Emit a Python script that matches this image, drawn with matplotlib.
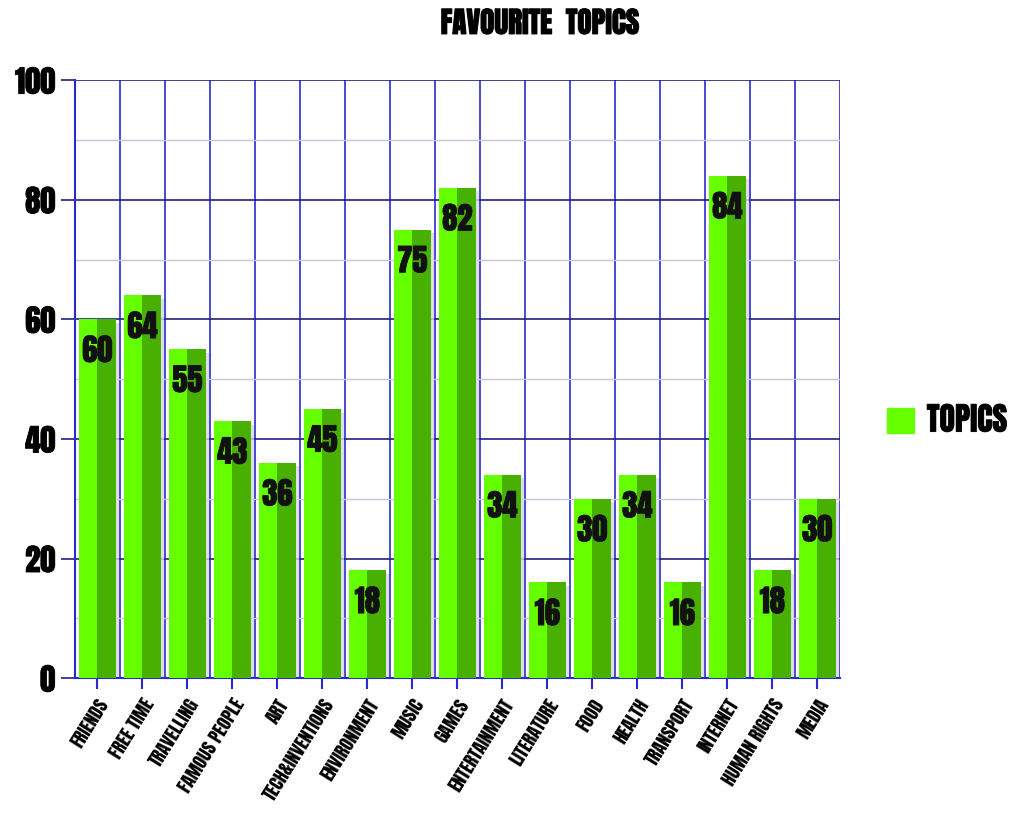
import numpy as np
import matplotlib.pyplot as plt
import matplotlib.patheffects as pe
from matplotlib.ticker import MultipleLocator

TOPICS = ['FRIENDS', 'FREE TIME', 'TRAVELLING', 'FAMOUS PEOPLE', 'ART', 'TECH&INVENTIONS',
          'ENVIRONMENT', 'MUSIC', 'GAMES', 'ENTERTAINMENT', 'LITERATURE', 'FOOD', 'HEALTH',
          'TRANSPORT', 'INTERNET', 'HUMAN RIGHTS', 'MEDIA']
VALUES = [60, 64, 55, 43, 36, 45, 18, 75, 82, 34, 16, 30, 34, 16, 84, 18, 30]

FONT = ['Anton', 'DejaVu Sans']
LIGHT = '#66ff00'
DARK = '#48b000'
W = 0.82
bold = [pe.withStroke(linewidth=0.6, foreground='#111111')]

fig = plt.figure(figsize=(10.24, 8.18), dpi=100)
ax = fig.add_axes([0.073, 0.171, 0.747, 0.731])

x = np.arange(len(TOPICS))
vals = np.array(VALUES)

# shadow
ax.bar(x + 0.08, vals, W, bottom=-0.6, color='#d8d8e0', zorder=2, alpha=0.8)
ax.bar(x - W / 4, vals, W / 2, color=LIGHT, zorder=3, label='TOPICS')
ax.bar(x + W / 4, vals, W / 2, color=DARK, zorder=3)

for xi, v in zip(x, vals):
    ax.text(xi, v - 5.2, str(v), ha='center', va='center', fontsize=22,
            family=FONT, color='#111111', zorder=4, path_effects=bold)

ax.set_xlim(-0.5, len(TOPICS) - 0.5)
ax.set_ylim(0, 100)
ax.yaxis.set_major_locator(MultipleLocator(20))
ax.yaxis.set_minor_locator(MultipleLocator(10))

for b in np.arange(-0.5, len(TOPICS), 1):
    ax.axvline(b, color='#2a2ad0', lw=1.2, zorder=1)
for y in range(10, 100, 20):
    ax.axhline(y, color='#c8c8e0', lw=1.0, zorder=1)
for y in range(20, 101, 20):
    ax.axhline(y, color='#202080', lw=1.2, zorder=1)

for s in ['top', 'right']:
    ax.spines[s].set_visible(False)
ax.spines['left'].set_color('#2a2ad0')
ax.spines['bottom'].set_color('#2a2ad0')
ax.spines['left'].set_linewidth(1.5)
ax.spines['bottom'].set_linewidth(1.5)

ax.set_xticks(x)
ax.set_xticklabels(TOPICS, rotation=58, ha='right', rotation_mode='anchor',
                   fontsize=13, family=FONT)
ax.tick_params(axis='x', length=8, color='#2a2ad0', width=1.5, pad=5)
ax.tick_params(axis='y', which='major', length=10, color='#202080', width=1.2, pad=4)
ax.tick_params(axis='y', which='minor', length=0)
for lbl in ax.get_yticklabels():
    lbl.set_fontsize(22)
    lbl.set_family(FONT)
    lbl.set_path_effects(bold)

fig.text(0.527, 0.972, 'FAVOURITE  TOPICS', ha='center', va='center', fontsize=21,
         family=FONT, path_effects=[pe.withStroke(linewidth=0.8, foreground='#111111')])

leg = fig.legend(handles=[plt.Rectangle((0, 0), 1, 1, color=LIGHT)], labels=['TOPICS'],
                 loc='center left', bbox_to_anchor=(0.838, 0.487), frameon=False,
                 prop={'family': FONT, 'size': 23},
                 handlelength=0.85, handleheight=0.85, handletextpad=0.4)
for t in leg.get_texts():
    t.set_path_effects(bold)

fig.savefig('out.png', dpi=100)
